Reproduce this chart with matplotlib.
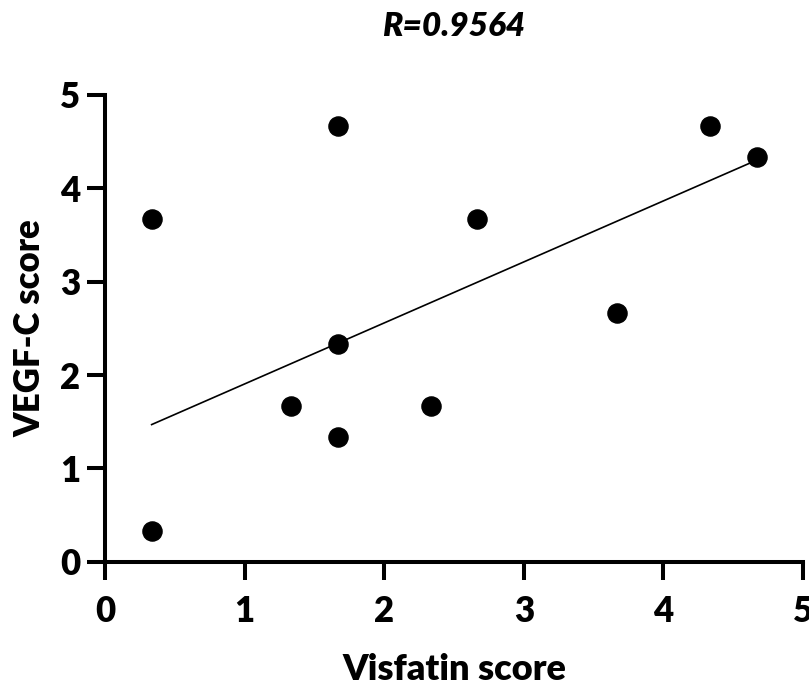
import matplotlib
matplotlib.use("Agg", force=True)
import matplotlib.pyplot as plt

# data
visfatin = [0.333, 0.333, 1.333, 1.667, 1.667, 1.667, 2.333, 2.667, 3.667, 4.333, 4.667]
vegfc    = [3.667, 0.333, 1.667, 4.667, 2.333, 1.333, 1.667, 3.667, 2.667, 4.667, 4.333]
fit_x    = [0.333, 4.667]
fit_y    = [1.47, 4.30]
ticks    = [0, 1, 2, 3, 4, 5]

plt.rcParams["font.family"] = ["Lato", "DejaVu Sans"]

fig = plt.figure(figsize=(8.09, 6.92), dpi=100)
ax = fig.add_axes([0.130, 0.188, 0.8626, 0.675])

ax.scatter(visfatin, vegfc, s=190, color="black", zorder=3, clip_on=False)
ax.plot(fit_x, fit_y, color="black", lw=1.2)

ax.set_xlim(0, 5)
ax.set_ylim(0, 5)
ax.set_xticks(ticks)
ax.set_yticks(ticks)
for sp in ["top", "right"]:
    ax.spines[sp].set_visible(False)
for sp in ["left", "bottom"]:
    ax.spines[sp].set_linewidth(2.9)
ax.tick_params(width=2.9, length=13, labelsize=25)
ax.tick_params(axis="x", pad=11)
ax.tick_params(axis="y", pad=5)
for lab in ax.get_xticklabels() + ax.get_yticklabels():
    lab.set_fontweight("heavy")

ax.set_xlabel("Visfatin score", fontsize=26, fontweight="heavy", labelpad=18)
ax.set_ylabel("VEGF-C score", fontsize=25, fontweight="heavy", labelpad=10)
ax.set_title("R=0.9564", fontsize=24, fontweight="heavy", style="italic", pad=42)

fig.savefig("out.png", dpi=100)
